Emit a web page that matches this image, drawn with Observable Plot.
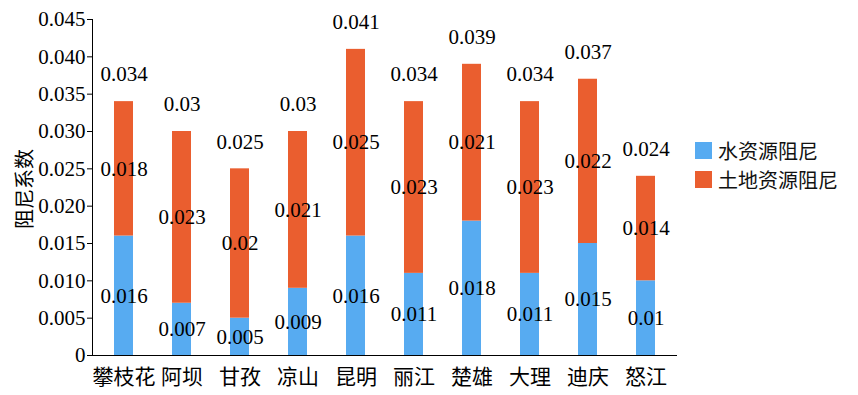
<!DOCTYPE html>
<html><head><meta charset="utf-8">
<script src="https://cdn.jsdelivr.net/npm/d3@7"></script>
<script src="https://cdn.jsdelivr.net/npm/@observablehq/plot@0.6"></script>
<style>
body{margin:0;background:#fff;}
#wrap{position:relative;width:858px;height:395px;}
.leg{position:absolute;left:695px;font-family:"Noto Sans CJK SC";font-size:20px;color:#111;display:flex;align-items:center;}
.sw{width:17px;height:17px;margin-right:6px;}
</style>
</head><body>
<div id="wrap"></div>
<script>
const cities = ["攀枝花","阿坝","甘孜","凉山","昆明","丽江","楚雄","大理","迪庆","怒江"];
const water = [0.016,0.007,0.005,0.009,0.016,0.011,0.018,0.011,0.015,0.01];
const land = [0.018,0.023,0.02,0.021,0.025,0.023,0.021,0.023,0.022,0.014];
const totals = [0.034,0.03,0.025,0.03,0.041,0.034,0.039,0.034,0.037,0.024];
const series = ["水资源阻尼","土地资源阻尼"];
const colors = ["#57ABF1","#EA5E2F"];
const yTicks = [0,0.005,0.01,0.015,0.02,0.025,0.03,0.035,0.04,0.045];

const rows = [];
cities.forEach((c,i)=>{
  rows.push({city:c, s:series[0], y1:0, y2:water[i], v:water[i]});
  rows.push({city:c, s:series[1], y1:water[i], y2:water[i]+land[i], v:land[i]});
});
const tops = cities.map((c,i)=>({city:c, y:water[i]+land[i], v:totals[i]}));
const fmt = v => String(+v.toFixed(3));
const numFont = "'Liberation Serif', 'Times New Roman', serif";
const cjkFont = "'Noto Sans CJK SC', sans-serif";

const chart = Plot.plot({
  width: 858, height: 395,
  marginLeft: 92, marginRight: 181, marginTop: 19, marginBottom: 40,
  style: {fontSize: "20px", color: "#000", background: "#fff"},
  x: {domain: cities, label: null, paddingInner: 0.675, paddingOuter: 0.3375},
  y: {domain: [0,0.045], label: null},
  color: {domain: series, range: colors},
  marks: [
    Plot.barY(rows, {x:"city", y1:"y1", y2:"y2", fill:"s"}),
    Plot.axisY({ticks: yTicks, tickFormat: d => d===0 ? "0" : d3.format(".3f")(d), tickSize: 5, tickPadding: 2, fontSize: 21, label: null, className: "numtxt"}),
    Plot.axisX({tickSize: 0, tickPadding: 14, fontSize: 21, label: null, className: "cjktxt"}),
    Plot.ruleY([0]),
    Plot.text(rows, {x:"city", y: d => (d.y1+d.y2)/2, text: d => fmt(d.v), fontSize: 21, fill: "#000", className: "numtxt"}),
    Plot.text(tops, {x:"city", y:"y", text: d => fmt(d.v), dy: -27, fontSize: 21, fill: "#000", className: "numtxt"})
  ]
});
const wrap = document.getElementById("wrap");
wrap.appendChild(chart);
const svg = d3.select(chart);
svg.selectAll("text").style("font-family", numFont);
svg.selectAll(".cjktxt text").style("font-family", cjkFont);
svg.append("line").attr("x1",92.5).attr("x2",92.5).attr("y1",19).attr("y2",355).attr("stroke","#000");
svg.append("text").attr("transform","translate(27,189) rotate(-90)").attr("text-anchor","middle").attr("dominant-baseline","middle")
  .style("font-family", cjkFont).attr("font-size",20).attr("fill","#000").text("阻尼系数");
series.forEach((s,i)=>{
  const d = document.createElement("div");
  d.className = "leg";
  d.style.top = (136 + i*29) + "px";
  d.innerHTML = `<div class="sw" style="background:${colors[i]}"></div><span>${s}</span>`;
  wrap.appendChild(d);
});
</script>
</body></html>
